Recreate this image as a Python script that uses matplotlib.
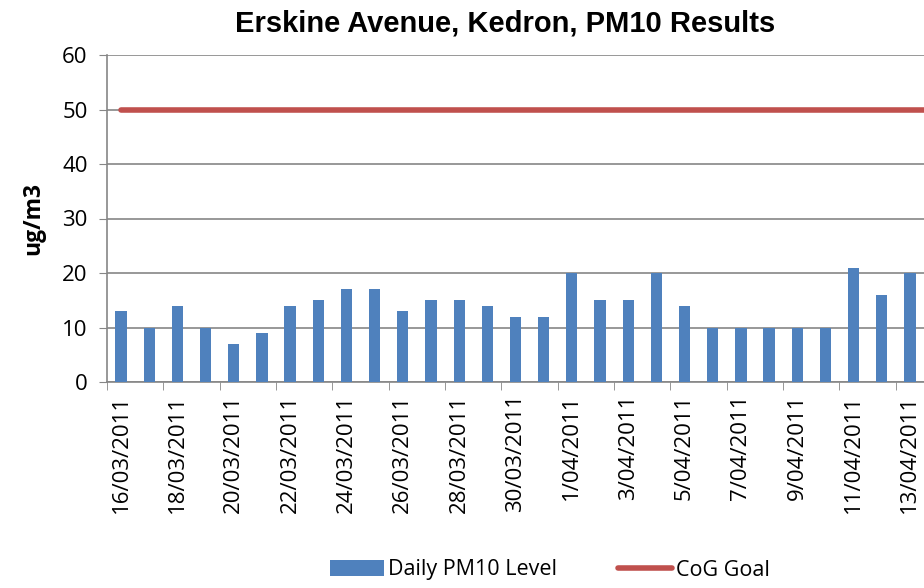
import matplotlib.pyplot as plt
import numpy as np

dates = ["16/03/2011", "17/03/2011", "18/03/2011", "19/03/2011", "20/03/2011",
         "21/03/2011", "22/03/2011", "23/03/2011", "24/03/2011", "25/03/2011",
         "26/03/2011", "27/03/2011", "28/03/2011", "29/03/2011", "30/03/2011",
         "31/03/2011", "1/04/2011", "2/04/2011", "3/04/2011", "4/04/2011",
         "5/04/2011", "6/04/2011", "7/04/2011", "8/04/2011", "9/04/2011",
         "10/04/2011", "11/04/2011", "12/04/2011", "13/04/2011"]
pm10 = [13, 10, 14, 10, 7, 9, 14, 15, 17, 17, 13, 15, 15, 14, 12, 12, 20, 15,
        15, 20, 14, 10, 10, 10, 10, 10, 21, 16, 20]
goal = 50

fig = plt.figure(figsize=(9.24, 5.88), dpi=100)
ax = fig.add_axes([107/924, 1 - 382/588, 817/924, 327/588])

x = np.arange(len(dates))
bars = ax.bar(x, pm10, width=0.4, color="#4F81BD", label="Daily PM10 Level", zorder=3)
line, = ax.plot([0, len(dates) - 0.5], [goal, goal], color="#C0504D", lw=4,
                solid_capstyle="round", label="CoG Goal", zorder=4)

ax.set_xlim(-0.5, len(dates) - 0.5)
ax.set_ylim(0, 60)
ax.set_yticks(range(0, 61, 10))
ax.tick_params(axis="y", labelsize=16, length=6, color="#868686", pad=8)
ax.grid(axis="y", color="#868686", lw=1.2, zorder=0)

ax.set_xticks(x[::2])
ax.set_xticklabels(dates[::2], rotation=90, fontsize=16, family="Open Sans")
ax.set_xticks(np.arange(-0.5, len(dates), 2), minor=True)
ax.tick_params(axis="x", which="major", length=0, pad=9)
ax.tick_params(axis="x", which="minor", length=6, color="#868686")
for lab in ax.get_yticklabels():
    lab.set_family("Open Sans")

for s in ["top", "right"]:
    ax.spines[s].set_visible(False)
ax.spines["left"].set_color("#868686")
ax.spines["bottom"].set_color("#868686")
ax.spines["left"].set_linewidth(1.2)
ax.spines["bottom"].set_linewidth(1.2)

ax.set_ylabel("ug/m3", fontsize=16.5, fontweight="bold", family="Open Sans", labelpad=12)
fig.text(505/924, 1 - 23/588, "Erskine Avenue, Kedron, PM10 Results", ha="center",
         va="center", fontsize=21, fontweight="bold", family="Liberation Sans")

fig.legend([bars, line], ["Daily PM10 Level", "CoG Goal"], loc="center",
           bbox_to_anchor=(550/924, 1 - 570/588), ncol=2, frameon=False,
           prop={"family": "Open Sans", "size": 15.5}, handlelength=2.5,
           columnspacing=2.8, handletextpad=0.2)

fig.savefig("out.png", dpi=100)
